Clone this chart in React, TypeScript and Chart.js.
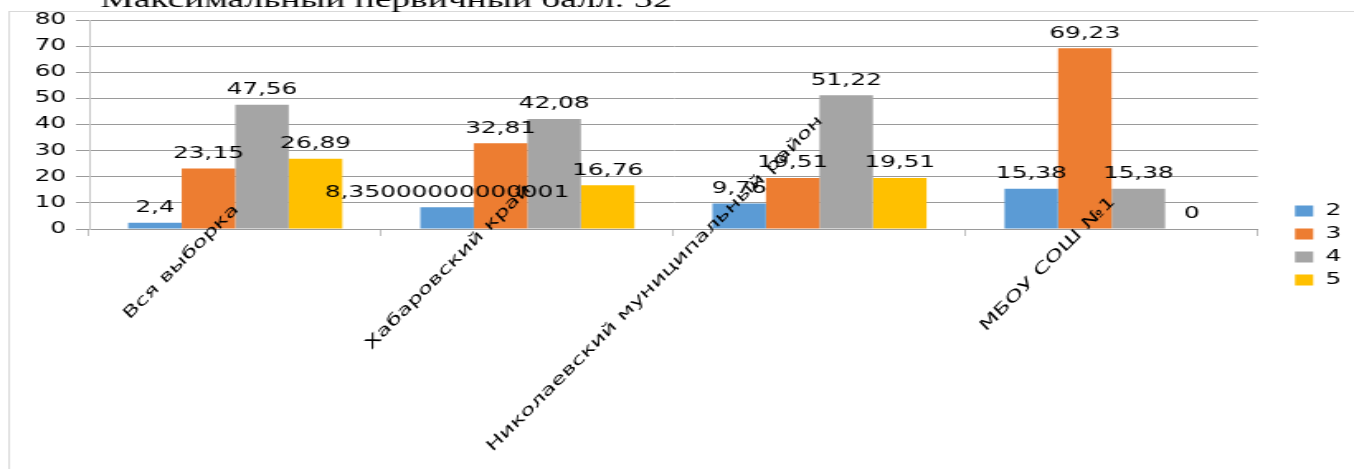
import React, { useEffect, useRef } from 'react';
import { Chart, registerables } from 'chart.js';

Chart.register(...registerables);

// ---- data ----
const categories = ['Вся выборка', 'Хабаровский край', 'Николаевский муниципальный район', 'МБОУ СОШ №1'];
const seriesNames = ['2', '3', '4', '5'];
const series2 = [2.4, 8.35000000000001, 9.76, 15.38];
const series3 = [23.15, 32.81, 19.51, 69.23];
const series4 = [47.56, 42.08, 51.22, 15.38];
const series5 = [26.89, 16.76, 19.51, 0];
const seriesColors = ['#5B9BD5', '#ED7D31', '#A5A5A5', '#FFC000'];
const titleText = 'Максимальный первичный балл: 32';
const yMin = 0;
const yMax = 80;
const yStep = 10;

// ---- layout ----
const PAGE_W = 1354;
const PAGE_H = 469;
const CANVAS_W = 820;
const SX = PAGE_W / CANVAS_W; // horizontal stretch of the reference rendering
const FONT = 'DejaVu Sans';
const CAT_FONT_SIZE = 16;
const CAT_STRETCH = 1.47;

const framePlugin = {
  id: 'frameAndTitle',
  beforeDraw(chart: any) {
    const ctx = chart.ctx;
    ctx.save();
    ctx.strokeStyle = '#D9D9D9';
    ctx.lineWidth = 1;
    ctx.strokeRect(5.5, 11.5, chart.width + 20, chart.height + 20);
    ctx.fillStyle = '#000';
    let size = 24;
    ctx.font = `${size}px "Liberation Serif"`;
    const w = ctx.measureText(titleText).width;
    size = (size * 346) / w;
    ctx.font = `${size}px "Liberation Serif"`;
    ctx.textAlign = 'center';
    ctx.textBaseline = 'alphabetic';
    ctx.fillText(titleText, 386 / SX, 7);
    ctx.restore();
  },
};

const valueLabelPlugin = {
  id: 'valueLabels',
  afterDatasetsDraw(chart: any) {
    const ctx = chart.ctx;
    ctx.save();
    ctx.font = `15px "${FONT}"`;
    ctx.fillStyle = '#000';
    ctx.textAlign = 'center';
    ctx.textBaseline = 'middle';
    chart.data.datasets.forEach((ds: any, di: number) => {
      const meta = chart.getDatasetMeta(di);
      meta.data.forEach((bar: any, i: number) => {
        const text = String(ds.data[i]).replace('.', ',');
        ctx.fillText(text, bar.x, bar.y - 14.5);
      });
    });
    ctx.restore();
  },
};

const categoryLabelPlugin = {
  id: 'categoryLabels',
  afterDraw(chart: any) {
    const ctx = chart.ctx;
    const xs = chart.scales.x;
    const r = Math.SQRT1_2;
    const k = CAT_STRETCH;
    ctx.save();
    ctx.font = `${CAT_FONT_SIZE}px "${FONT}"`;
    ctx.fillStyle = '#000';
    ctx.textAlign = 'center';
    ctx.textBaseline = 'middle';
    (chart.data.labels as string[]).forEach((label: string, i: number) => {
      const x = xs.getPixelForValue(i);
      const w = ctx.measureText(label).width;
      const La = w * k;
      const cxA = x * SX + 1 - (La / 2) * r;
      const cy = 262 + 0.07 * (La - 154);
      ctx.save();
      ctx.translate(cxA / SX, cy);
      ctx.transform((k * r) / SX, -k * r, r / SX, r, 0, 0);
      ctx.fillText(label, 0, 0);
      ctx.restore();
    });
    ctx.restore();
  },
};

const legendShiftPlugin = {
  id: 'legendShift',
  afterLayout(chart: any) {
    const lg = chart.legend;
    if (!lg) return;
    const dx = 1295 / SX - (lg.left + 8);
    lg.left += dx;
    lg.right += dx;
    lg.top += 1;
    lg.bottom += 1;
  },
};

export default function App() {
  const ref = useRef<HTMLCanvasElement | null>(null);

  useEffect(() => {
    if (!ref.current) return;
    Chart.defaults.font.family = FONT;
    Chart.defaults.font.size = 15;
    Chart.defaults.color = '#000';
    const values = [series2, series3, series4, series5];
    const chart = new Chart(ref.current, {
      type: 'bar',
      data: {
        labels: categories,
        datasets: seriesNames.map((name, i) => ({
          label: name,
          data: values[i],
          backgroundColor: seriesColors[i],
          borderWidth: 0,
          categoryPercentage: 0.733,
          barPercentage: 1,
        })),
      },
      options: {
        responsive: false,
        animation: false,
        devicePixelRatio: 1,
        layout: { padding: { left: 0, top: 20, right: 12.3, bottom: 0 } },
        plugins: {
          legend: {
            position: 'right',
            labels: {
              boxWidth: 11,
              boxHeight: 11,
              padding: 8,
              color: '#000',
              font: { family: FONT, size: 15 },
            },
          },
          tooltip: { enabled: false },
          title: { display: false },
        },
        scales: {
          x: {
            grid: {
              display: true,
              drawOnChartArea: false,
              drawTicks: true,
              tickLength: 7,
              color: '#BFBFBF',
              offset: true,
            },
            border: { display: true, color: '#9A9A9A' },
            ticks: { display: false },
            afterFit: (s: any) => {
              s.height = PAGE_H - 229;
            },
          },
          y: {
            min: yMin,
            max: yMax,
            ticks: { stepSize: yStep, padding: 6, color: '#000', font: { family: FONT, size: 15 } },
            grid: { color: '#9A9A9A', tickLength: 8 },
            border: { color: '#C8C8C8' },
            afterFit: (s: any) => {
              s.width = 54;
            },
          },
        },
      },
      plugins: [framePlugin, valueLabelPlugin, categoryLabelPlugin, legendShiftPlugin],
    } as any);
    return () => chart.destroy();
  }, []);

  return (
    <div
      style={{
        position: 'fixed',
        left: 0,
        top: 0,
        width: PAGE_W,
        height: PAGE_H,
        overflow: 'hidden',
        background: '#fff',
      }}
    >
      <canvas
        ref={ref}
        width={CANVAS_W}
        height={PAGE_H}
        style={{ width: `${PAGE_W}px`, height: `${PAGE_H}px`, display: 'block' }}
      />
    </div>
  );
}
